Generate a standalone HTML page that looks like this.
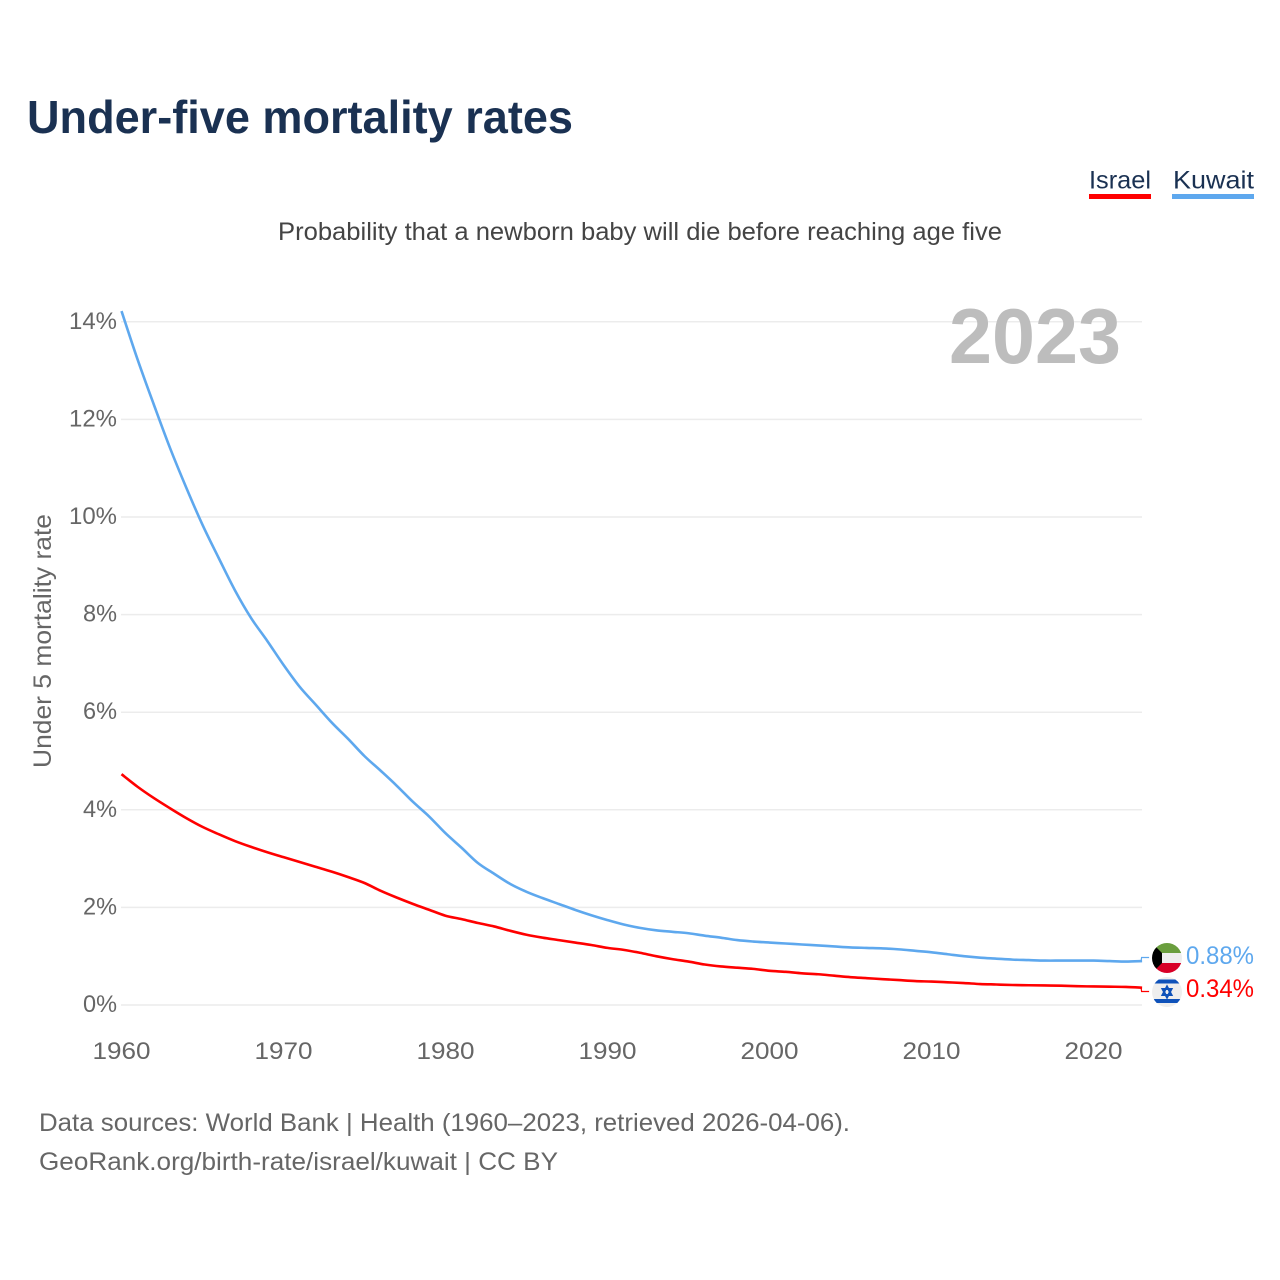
<!DOCTYPE html>
<html lang="en">
<head>
<meta charset="utf-8">
<title>Under-five mortality rates</title>
<style>
html,body{margin:0;padding:0;background:#fff;}
svg{display:block;font-family:"Liberation Sans",Arial,sans-serif;}
</style>
</head>
<body>
<svg id="chart" width="1280" height="1280" viewBox="0 0 1280 1280" xmlns="http://www.w3.org/2000/svg">
  <rect x="0" y="0" width="1280" height="1280" fill="#ffffff"/>
  <text x="27" y="133" font-size="46" font-weight="700" fill="#1a3152" textLength="546" lengthAdjust="spacingAndGlyphs">Under-five mortality rates</text>
  <text x="278" y="240" font-size="25" fill="#444444" textLength="724" lengthAdjust="spacingAndGlyphs">Probability that a newborn baby will die before reaching age five</text>

  <g>
    <text x="1089" y="188.5" font-size="25" fill="#1a3152" textLength="62" lengthAdjust="spacingAndGlyphs">Israel</text>
    <rect x="1089" y="194" width="62" height="5" fill="#ff0000"/>
  </g>
  <g>
    <text x="1173" y="188.5" font-size="25" fill="#1a3152" textLength="81" lengthAdjust="spacingAndGlyphs">Kuwait</text>
    <rect x="1172" y="194" width="82" height="5" fill="#5ea8ee"/>
  </g>

  <text transform="translate(51 768) rotate(-90)" x="0" y="0" font-size="25" fill="#666666" textLength="254" lengthAdjust="spacingAndGlyphs">Under 5 mortality rate</text>

  <g id="grid"></g>
  <g id="yticks"></g>
  <g id="xticks"></g>

  <text x="949" y="363" font-size="78" font-weight="700" fill="#bdbdbd" textLength="172" lengthAdjust="spacingAndGlyphs">2023</text>

  <g id="series"></g>

  <defs>
    <clipPath id="clip-kw"><circle cx="1167" cy="958" r="15"/></clipPath>
    <clipPath id="clip-il"><circle cx="1167" cy="992" r="15"/></clipPath>
  </defs>
  <g clip-path="url(#clip-kw)">
    <rect x="1152" y="943" width="30" height="10" fill="#6a9e3e"/>
    <rect x="1152" y="953" width="30" height="10" fill="#eeeeee"/>
    <rect x="1152" y="963" width="30" height="10" fill="#d80027"/>
    <polygon points="1152,943 1162,953 1162,963 1152,973" fill="#000000"/>
  </g>
  <g clip-path="url(#clip-il)">
    <rect x="1152" y="977" width="30" height="30" fill="#eeeeee"/>
    <rect x="1152" y="979.5" width="30" height="4" fill="#0f52ba"/>
    <rect x="1152" y="999" width="30" height="4" fill="#0f52ba"/>
    <polygon points="1167,986.5 1171.5,995 1162.5,995" fill="none" stroke="#0f52ba" stroke-width="2"/>
    <polygon points="1167,997.5 1171.5,989 1162.5,989" fill="none" stroke="#0f52ba" stroke-width="2"/>
  </g>

  <text x="1186" y="964" font-size="25" fill="#5ea8ee" textLength="68" lengthAdjust="spacingAndGlyphs">0.88%</text>
  <text x="1186" y="997" font-size="25" fill="#ff0000" textLength="68" lengthAdjust="spacingAndGlyphs">0.34%</text>

  <text x="39" y="1131" font-size="25" fill="#666666" textLength="811" lengthAdjust="spacingAndGlyphs">Data sources: World Bank | Health (1960–2023, retrieved 2026-04-06).</text>
  <text x="39" y="1170" font-size="25" fill="#666666" textLength="519" lengthAdjust="spacingAndGlyphs">GeoRank.org/birth-rate/israel/kuwait | CC BY</text>
</svg>
<script>
const startYear = 1960;
const xTickYears = [1960, 1970, 1980, 1990, 2000, 2010, 2020];
const yTickValues = [0, 2, 4, 6, 8, 10, 12, 14];
const kuwaitValues = [14.22, 13.22, 12.3, 11.41, 10.6, 9.84, 9.16, 8.5, 7.93, 7.46,
  6.97, 6.52, 6.15, 5.78, 5.45, 5.1, 4.8, 4.49, 4.16, 3.86,
  3.52, 3.22, 2.91, 2.69, 2.48, 2.32, 2.19, 2.07, 1.95, 1.84,
  1.74, 1.65, 1.58, 1.53, 1.5, 1.47, 1.42, 1.38, 1.33, 1.3,
  1.28, 1.26, 1.24, 1.22, 1.2, 1.18, 1.17, 1.16, 1.14, 1.11,
  1.08, 1.04, 1.0, 0.97, 0.95, 0.93, 0.92, 0.91, 0.91, 0.91,
  0.91, 0.9, 0.89, 0.9];
const israelValues = [4.73, 4.47, 4.24, 4.03, 3.83, 3.65, 3.5, 3.36, 3.24, 3.13,
  3.03, 2.93, 2.83, 2.73, 2.62, 2.5, 2.34, 2.2, 2.07, 1.95,
  1.83, 1.76, 1.68, 1.61, 1.52, 1.44, 1.38, 1.33, 1.28, 1.23,
  1.17, 1.13, 1.07, 1.0, 0.94, 0.89, 0.83, 0.79, 0.765, 0.74,
  0.7, 0.68, 0.65, 0.63, 0.6, 0.57, 0.55, 0.53, 0.51, 0.49,
  0.48, 0.465, 0.45, 0.43, 0.42, 0.41, 0.405, 0.4, 0.395, 0.385,
  0.38, 0.375, 0.37, 0.355];

const SVG_NS = 'http://www.w3.org/2000/svg';
const xScale = function (year) { return 121.5 + (year - 1960) * 16.2; };
const yScale = function (value) { return 1005 - value * 48.8; };

const gridGroup = document.getElementById('grid');
const yTickGroup = document.getElementById('yticks');
yTickValues.forEach(function (v) {
  const line = document.createElementNS(SVG_NS, 'line');
  
  
  line.setAttribute('x1', 121);
  line.setAttribute('x2', 1142);
  line.setAttribute('y1', yScale(v));
  line.setAttribute('y2', yScale(v));
  line.setAttribute('stroke', '#ececec');
  line.setAttribute('stroke-width', '1.5');
  gridGroup.appendChild(line);

  const label = document.createElementNS(SVG_NS, 'text');
  
  
  const str = v + '%';
  const w = str.length === 3 ? 48 : 34;
  label.setAttribute('x', 117 - w);
  label.setAttribute('y', yScale(v) + 7);
  label.setAttribute('font-size', '24');
  label.setAttribute('fill', '#666666');
  label.setAttribute('textLength', w);
  label.setAttribute('lengthAdjust', 'spacingAndGlyphs');
  label.textContent = str;
  yTickGroup.appendChild(label);
});

const xTickGroup = document.getElementById('xticks');
xTickYears.forEach(function (year) {
  const label = document.createElementNS(SVG_NS, 'text');
  
  
  label.setAttribute('x', xScale(year) - 29);
  label.setAttribute('y', 1059);
  label.setAttribute('font-size', '24');
  label.setAttribute('fill', '#666666');
  label.setAttribute('textLength', 58);
  label.setAttribute('lengthAdjust', 'spacingAndGlyphs');
  label.textContent = String(year);
  xTickGroup.appendChild(label);
});

function linePath(values) {
  const pts = values.map(function (v, i) {
    return [xScale(startYear + i), yScale(v)];
  });
  let d = 'M' + pts[0][0].toFixed(2) + ' ' + pts[0][1].toFixed(2);
  for (let i = 0; i < pts.length - 1; i++) {
    const p0 = pts[Math.max(i - 1, 0)];
    const p1 = pts[i];
    const p2 = pts[i + 1];
    const p3 = pts[Math.min(i + 2, pts.length - 1)];
    const c1x = p1[0] + (p2[0] - p0[0]) / 6;
    const c1y = p1[1] + (p2[1] - p0[1]) / 6;
    const c2x = p2[0] - (p3[0] - p1[0]) / 6;
    const c2y = p2[1] - (p3[1] - p1[1]) / 6;
    d += ' C' + c1x.toFixed(2) + ' ' + c1y.toFixed(2) + ' ' + c2x.toFixed(2) + ' ' + c2y.toFixed(2) + ' ' + p2[0].toFixed(2) + ' ' + p2[1].toFixed(2);
  }
  return d;
}

function leaderPath(values, labelY) {
  const lastX = xScale(startYear + values.length - 1);
  return 'M' + (lastX - 1).toFixed(2) + ' ' + yScale(values[values.length - 1]).toFixed(2) +
    ' L' + (lastX - 0.5).toFixed(2) + ' ' + labelY + ' L' + (lastX + 7).toFixed(2) + ' ' + labelY;
}

const seriesGroup = document.getElementById('series');

const kuwaitLine = document.createElementNS(SVG_NS, 'path');


kuwaitLine.setAttribute('d', linePath(kuwaitValues));
kuwaitLine.setAttribute('fill', 'none');
kuwaitLine.setAttribute('stroke', '#5ea8ee');
kuwaitLine.setAttribute('stroke-width', '2.6');
kuwaitLine.setAttribute('stroke-linejoin', 'round');
seriesGroup.appendChild(kuwaitLine);

const israelLine = document.createElementNS(SVG_NS, 'path');


israelLine.setAttribute('d', linePath(israelValues));
israelLine.setAttribute('fill', 'none');
israelLine.setAttribute('stroke', '#ff0000');
israelLine.setAttribute('stroke-width', '2.6');
israelLine.setAttribute('stroke-linejoin', 'round');
seriesGroup.appendChild(israelLine);

const kuwaitLeader = document.createElementNS(SVG_NS, 'path');


kuwaitLeader.setAttribute('d', leaderPath(kuwaitValues, 957.5));
kuwaitLeader.setAttribute('fill', 'none');
kuwaitLeader.setAttribute('stroke', '#5ea8ee');
kuwaitLeader.setAttribute('stroke-width', '1.2');
seriesGroup.appendChild(kuwaitLeader);

const israelLeader = document.createElementNS(SVG_NS, 'path');


israelLeader.setAttribute('d', leaderPath(israelValues, 991.5));
israelLeader.setAttribute('fill', 'none');
israelLeader.setAttribute('stroke', '#ff0000');
israelLeader.setAttribute('stroke-width', '1.2');
seriesGroup.appendChild(israelLeader);
</script>
</body>
</html>
